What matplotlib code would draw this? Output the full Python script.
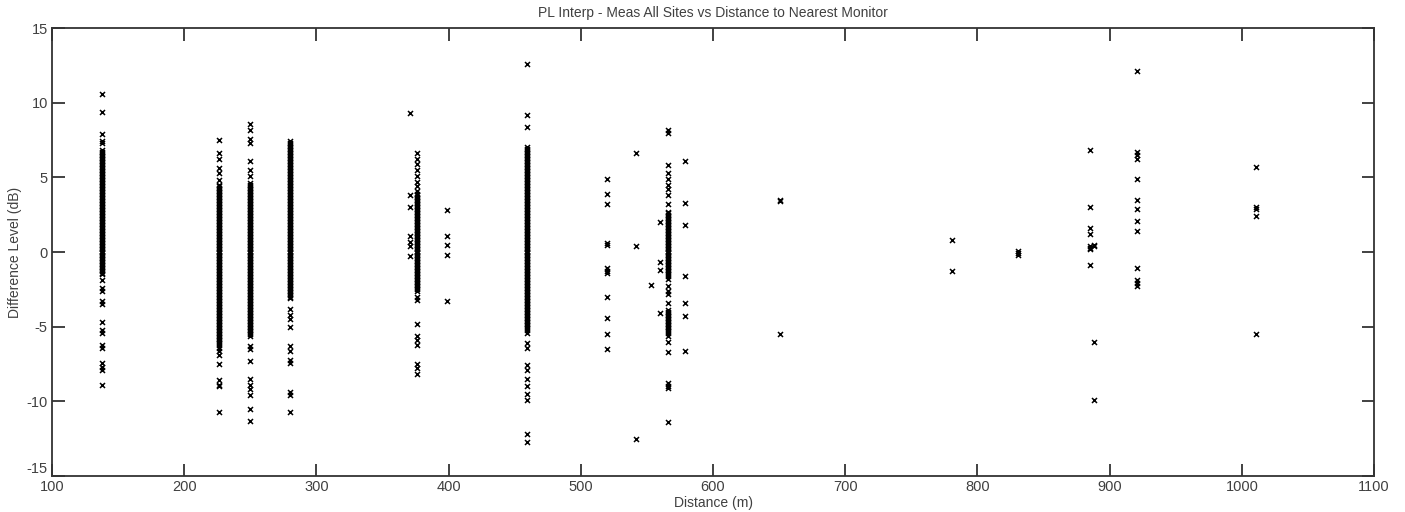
import matplotlib
matplotlib.use("Agg")
import matplotlib.pyplot as plt

# ---- data: distance (m) of each site group and its difference levels (dB) ----
site_distances = [138, 226, 250, 280, 371, 376, 399, 459, 520, 542, 553, 560,
                  566, 579, 651, 781, 831, 885, 888, 921, 1011]

d138 = [10.6, 9.4, 7.9, 7.4, 7.3,
        6.8, 6.7, 6.6, 6.5, 6.4, 6.3, 6.2, 6.1, 6.0, 5.9, 5.8, 5.7, 5.6, 5.5, 5.4,
        5.3, 5.2, 5.1, 5.0, 4.9, 4.8, 4.7, 4.6, 4.5, 4.4, 4.3, 4.2, 4.1, 4.0, 3.9,
        3.8, 3.7, 3.6, 3.5, 3.4, 3.3, 3.2, 3.1, 3.0, 2.9, 2.8, 2.7, 2.6, 2.5, 2.4,
        2.3, 2.2, 2.1, 2.0, 1.9, 1.8, 1.7, 1.6, 1.5, 1.4, 1.3, 1.2, 1.1, 1.0, 0.9,
        0.8, 0.7, 0.6, 0.5, 0.4, 0.3, 0.2, 0.1, 0.0, -0.1, -0.2, -0.3, -0.4, -0.5,
        -0.6, -0.7, -0.8, -0.9, -1.0, -1.1, -1.2, -1.3, -1.4, -1.5,
        -1.9, -2.4, -2.6, -3.3, -3.5, -4.7, -5.2, -5.4, -6.2, -6.4, -7.4, -7.7,
        -7.9, -8.9]
d226 = [7.5, 6.6, 6.2, 5.6, 5.3, 4.8,
        4.5, 4.4, 4.3, 4.2, 4.1, 4.0, 3.9, 3.8, 3.7, 3.6, 3.5, 3.4, 3.3, 3.2, 3.1,
        3.0, 2.9, 2.8, 2.7, 2.6, 2.5, 2.4, 2.3, 2.2, 2.1, 2.0, 1.9, 1.8, 1.7, 1.6,
        1.5, 1.4, 1.3, 1.2, 1.1, 1.0, 0.9, 0.8, 0.7, 0.6, 0.5, 0.4, 0.3, 0.2, 0.1,
        0.0, -0.1, -0.2, -0.3, -0.4, -0.5, -0.6, -0.7, -0.8, -0.9, -1.0, -1.1,
        -1.2, -1.3, -1.4, -1.5, -1.6, -1.7, -1.8, -1.9, -2.0, -2.1, -2.2, -2.3,
        -2.4, -2.5, -2.6, -2.7, -2.8, -2.9, -3.0, -3.1, -3.2, -3.3, -3.4, -3.5,
        -3.6, -3.7, -3.8, -3.9, -4.0, -4.1, -4.2, -4.3, -4.4, -4.5, -4.6, -4.7,
        -4.8, -4.9, -5.0, -5.1, -5.2, -5.3, -5.4, -5.5, -5.6, -5.7, -5.8, -5.9,
        -6.0, -6.1, -6.2, -6.4, -6.6,
        -6.9, -7.5, -8.6, -8.9, -9.0, -10.7]
d250 = [8.6, 8.2, 7.6, 7.3, 6.1, 5.5, 5.1,
        4.6, 4.5, 4.4, 4.3, 4.2, 4.1, 4.0, 3.9, 3.8, 3.7, 3.6, 3.5, 3.4, 3.3, 3.2,
        3.1, 3.0, 2.9, 2.8, 2.7, 2.6, 2.5, 2.4, 2.3, 2.2, 2.1, 2.0, 1.9, 1.8, 1.7,
        1.6, 1.5, 1.4, 1.3, 1.2, 1.1, 1.0, 0.9, 0.8, 0.7, 0.6, 0.5, 0.4, 0.3, 0.2,
        0.1, 0.0, -0.1, -0.2, -0.3, -0.4, -0.5, -0.6, -0.7, -0.8, -0.9, -1.0,
        -1.1, -1.2, -1.3, -1.4, -1.5, -1.6, -1.7, -1.8, -1.9, -2.0, -2.1, -2.2,
        -2.3, -2.4, -2.5, -2.6, -2.7, -2.8, -2.9, -3.0, -3.1, -3.2, -3.3, -3.4,
        -3.5, -3.6, -3.7, -3.8, -3.9, -4.0, -4.1, -4.2, -4.3, -4.4, -4.5, -4.6,
        -4.7, -4.8, -4.9, -5.0, -5.1, -5.2, -5.3, -5.4, -5.5, -5.6,
        -6.3, -6.5, -7.3, -8.5, -8.9, -9.2, -9.6, -10.5, -11.3]
d280 = [7.4, 7.3, 7.2, 7.1, 7.0,
        6.9, 6.8, 6.7, 6.6, 6.5, 6.4, 6.3, 6.2, 6.1, 6.0, 5.9, 5.8, 5.7, 5.6, 5.5,
        5.4, 5.3, 5.2, 5.1, 5.0, 4.9, 4.8, 4.7, 4.6, 4.5, 4.4, 4.3, 4.2, 4.1, 4.0,
        3.9, 3.8, 3.7, 3.6, 3.5, 3.4, 3.3, 3.2, 3.1, 3.0, 2.9, 2.8, 2.7, 2.6, 2.5,
        2.4, 2.3, 2.2, 2.1, 2.0, 1.9, 1.8, 1.7, 1.6, 1.5, 1.4, 1.3, 1.2, 1.1, 1.0,
        0.9, 0.8, 0.7, 0.6, 0.5, 0.4, 0.3, 0.2, 0.1, 0.0, -0.1, -0.2, -0.3, -0.4,
        -0.5, -0.6, -0.7, -0.8, -0.9, -1.0, -1.1, -1.2, -1.3, -1.4, -1.5, -1.6,
        -1.7, -1.8, -1.9, -2.0, -2.1, -2.2, -2.3, -2.4, -2.5, -2.6, -2.7, -2.8,
        -2.9, -3.0, -3.1,
        -3.8, -4.2, -4.5, -5.0, -6.3, -6.6, -7.2, -7.4, -9.4, -9.6, -10.7]
d371 = [9.3, 3.8, 3.0, 1.1, 0.7, 0.4, -0.3]
d376 = [6.6, 6.2, 5.9, 5.5, 5.1, 4.7, 4.4, 4.1,
        3.9, 3.8, 3.7, 3.6, 3.5, 3.4, 3.3, 3.2, 3.1, 3.0, 2.9, 2.8, 2.7, 2.6, 2.5,
        2.4, 2.3, 2.2, 2.1, 2.0, 1.9, 1.8, 1.7, 1.6, 1.5, 1.4, 1.3, 1.2, 1.1, 1.0,
        0.9, 0.8, 0.7, 0.6, 0.5, 0.4, 0.3, 0.2, 0.1, 0.0, -0.1, -0.2, -0.3, -0.4,
        -0.5, -0.6, -0.7, -0.8, -0.9, -1.0, -1.1, -1.2, -1.3, -1.4, -1.5, -1.6,
        -1.7, -1.8, -1.9, -2.0, -2.1, -2.2, -2.3, -2.4, -2.5, -2.6,
        -3.0, -3.2, -4.8, -5.6, -5.9, -6.2, -7.5, -7.8, -8.2]
d399 = [2.8, 1.1, 0.5, -0.2, -3.3]
d459 = [12.6, 9.2, 8.4, 7.0,
        6.9, 6.8, 6.7, 6.6, 6.5, 6.4, 6.3, 6.2, 6.1, 6.0, 5.9, 5.8, 5.7, 5.6, 5.5,
        5.4, 5.3, 5.2, 5.1, 5.0, 4.9, 4.8, 4.7, 4.6, 4.5, 4.4, 4.3, 4.2, 4.1, 4.0,
        3.9, 3.8, 3.7, 3.6, 3.5, 3.4, 3.3, 3.2, 3.1, 3.0, 2.9, 2.8, 2.7, 2.6, 2.5,
        2.4, 2.3, 2.2, 2.1, 2.0, 1.9, 1.8, 1.7, 1.6, 1.5, 1.4, 1.3, 1.2, 1.1, 1.0,
        0.9, 0.8, 0.7, 0.6, 0.5, 0.4, 0.3, 0.2, 0.1, 0.0, -0.1, -0.2, -0.3, -0.4,
        -0.5, -0.6, -0.7, -0.8, -0.9, -1.0, -1.1, -1.2, -1.3, -1.4, -1.5, -1.6,
        -1.7, -1.8, -1.9, -2.0, -2.1, -2.2, -2.3, -2.4, -2.5, -2.6, -2.7, -2.8,
        -2.9, -3.0, -3.1, -3.2, -3.3, -3.4, -3.5, -3.6, -3.7, -3.8, -3.9, -4.0,
        -4.1, -4.2, -4.3, -4.4, -4.5, -4.6, -4.7, -4.8, -4.9, -5.0, -5.1, -5.2,
        -5.4,
        -6.1, -6.4, -7.6, -7.9, -8.5, -9.0, -9.5, -9.9, -12.2, -12.7]
d520 = [4.9, 3.9, 3.2, 0.6, 0.5, -1.1, -1.3, -1.4, -3.0, -4.4, -5.5, -6.5]
d542 = [6.6, 0.4, -12.5]
d553 = [-2.2]
d560 = [2.0, -0.7, -1.2, -4.1]
d566 = [8.2, 8.0, 5.8, 5.3, 4.9, 4.5, 4.2, 3.8, 3.2,
        2.7, 2.6, 2.5, 2.4, 2.3, 2.2, 2.1, 2.0, 1.9, 1.8, 1.7, 1.6, 1.5, 1.4, 1.3,
        1.2, 1.1, 1.0, 0.9, 0.8, 0.7, 0.6, 0.5, 0.4, 0.3, 0.2, 0.1, 0.0, -0.1,
        -0.2, -0.3, -0.4, -0.5, -0.6, -0.7, -0.8, -0.9, -1.0, -1.1, -1.2, -1.3,
        -1.4, -1.5, -1.6, -1.8,
        -2.3, -2.6, -2.8, -3.4,
        -3.9, -4.0, -4.1, -4.2, -4.3, -4.4, -4.5, -4.6, -4.7, -4.8, -4.9, -5.0,
        -5.1, -5.2, -5.3, -5.4, -5.6,
        -6.0, -6.7, -8.8, -9.0, -9.1, -11.4]
d579 = [6.1, 3.3, 1.8, -1.6, -3.4, -4.3, -6.6]
d651 = [3.5, 3.4, -5.5]
d781 = [0.8, -1.3]
d831 = [0.1, -0.1, -0.2]
d885 = [6.8, 3.0, 1.6, 1.2, 0.4, 0.3, 0.2, -0.9]
d888 = [0.5, 0.4, -6.0, -9.9]
d921 = [12.1, 6.7, 6.5, 6.2, 4.9, 3.5, 2.9, 2.1, 1.4, -1.1, -1.9, -2.1, -2.3]
d1011 = [5.7, 3.0, 2.9, 2.4, -5.5]

site_values = [d138, d226, d250, d280, d371, d376, d399, d459, d520, d542, d553,
               d560, d566, d579, d651, d781, d831, d885, d888, d921, d1011]

title = "PL Interp - Meas All Sites vs Distance to Nearest Monitor"
xlabel = "Distance (m)"
ylabel = "Difference Level (dB)"
xticks = [100, 200, 300, 400, 500, 600, 700, 800, 900, 1000, 1100]
yticks = [-15, -10, -5, 0, 5, 10, 15]

# ---- figure ----
plt.rcParams['font.family'] = ['Liberation Sans', 'DejaVu Sans']
fig = plt.figure(figsize=(14.05, 5.12), dpi=100)
ax = fig.add_axes([0.037, 0.0703, 0.941, 0.8750])

xs, ys = [], []
for dist, vals in zip(site_distances, site_values):
    xs.extend([dist] * len(vals))
    ys.extend(vals)
ax.plot(xs, ys, linestyle='none', marker='x', color='black',
        markersize=3.6, markeredgewidth=1.1)

ax.set_xlim(100, 1100)
ax.set_ylim(-15, 15)
ax.set_xticks(xticks)
ax.set_yticks(yticks)
ax.set_xticklabels([str(t) for t in xticks])
ax.set_yticklabels([str(t) for t in yticks])

text_color = '#404040'
for s in ax.spines.values():
    s.set_color('#333333')
    s.set_linewidth(1.3)
ax.tick_params(direction='in', length=9, width=1.3, color='#333333',
               top=True, right=True, labelsize=10.5, labelcolor=text_color, pad=3)
# keep the bottom-left "-15" label just clear of the "100" label
ax.get_yticklabels()[0].set_verticalalignment('bottom')

ax.set_title(title, fontsize=10, color=text_color, pad=8)
ax.set_xlabel(xlabel, fontsize=10, color=text_color, labelpad=1)
ax.set_ylabel(ylabel, fontsize=10, color=text_color, labelpad=3)

fig.savefig("out.png", dpi=100)
